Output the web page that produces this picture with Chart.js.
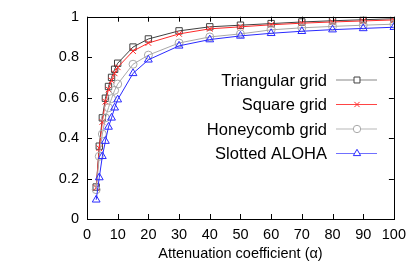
<!DOCTYPE html>
<html>
<head>
<meta charset="utf-8">
<script src="https://cdn.jsdelivr.net/npm/chart.js@4.4.0/dist/chart.umd.min.js"></script>
<style>
  html, body { margin: 0; padding: 0; background: #fff; }
  #wrap { width: 413px; height: 263px; }
</style>
</head>
<body>
<div id="wrap"><canvas id="chart" width="413" height="263"></canvas></div>
<script>
const alphaValues = [3, 4, 5, 6, 7, 8, 9, 10, 15, 20, 30, 40, 50, 60, 70, 80, 90, 100];
const triangularGrid = [0.158, 0.36, 0.50, 0.597, 0.655, 0.70, 0.74, 0.77, 0.85, 0.89, 0.93, 0.95, 0.958, 0.966, 0.974, 0.98, 0.985, 0.99];
const squareGrid = [0.155, 0.35, 0.48, 0.58, 0.64, 0.685, 0.72, 0.75, 0.83, 0.87, 0.915, 0.94, 0.95, 0.96, 0.968, 0.974, 0.979, 0.984];
const honeycombGrid = [0.145, 0.31, 0.42, 0.50, 0.55, 0.595, 0.636, 0.667, 0.765, 0.81, 0.87, 0.90, 0.915, 0.935, 0.945, 0.952, 0.958, 0.963];
const slottedAloha = [0.095, 0.205, 0.31, 0.385, 0.455, 0.50, 0.55, 0.59, 0.72, 0.787, 0.856, 0.887, 0.905, 0.918, 0.928, 0.936, 0.942, 0.948];
const xTicks = [0, 10, 20, 30, 40, 50, 60, 70, 80, 90, 100];
const yTicks = [0, 0.2, 0.4, 0.6, 0.8, 1];

const FONT = "Liberation Sans, Arial, Helvetica, sans-serif";

const series = [
  { label: "Triangular grid", data: triangularGrid, color: "#404040", legendLine: "#888", style: "rect", radius: 4.5 },
  { label: "Square grid", data: squareGrid, color: "#ff2a2a", legendLine: "#ff4444", style: "crossRot", radius: 4 },
  { label: "Honeycomb grid", data: honeycombGrid, color: "#a8a8a8", legendLine: "#b8b8b8", style: "circle", radius: 4 },
  { label: "Slotted ALOHA", data: slottedAloha, color: "#2a2aff", legendLine: "#7070ff", style: "triangle", radius: 4.5 }
];

// boîte complète + ticks vers l'intérieur (style gnuplot) + légende
const framePlugin = {
  id: "frame",
  afterDraw(chart) {
    const { ctx, chartArea: a, scales } = chart;
    ctx.save();
    ctx.strokeStyle = "#000";
    ctx.lineWidth = 1;
    ctx.strokeRect(Math.round(a.left) + 0.5, Math.round(a.top) + 0.5, Math.round(a.right - a.left), Math.round(a.bottom - a.top));
    const t = 5;
    ctx.beginPath();
    xTicks.forEach(v => {
      const x = Math.round(scales.x.getPixelForValue(v)) + 0.5;
      ctx.moveTo(x, a.bottom); ctx.lineTo(x, a.bottom - t);
      ctx.moveTo(x, a.top); ctx.lineTo(x, a.top + t);
    });
    yTicks.forEach(v => {
      const y = Math.round(scales.y.getPixelForValue(v)) + 0.5;
      ctx.moveTo(a.left, y); ctx.lineTo(a.left + t, y);
      ctx.moveTo(a.right, y); ctx.lineTo(a.right - t, y);
    });
    ctx.stroke();

    // légende
    ctx.font = "16.5px " + FONT;
    ctx.textAlign = "right";
    ctx.textBaseline = "middle";
    const rows = [80, 104.5, 129, 153.5];
    series.forEach((s, i) => {
      const y = rows[i];
      ctx.fillStyle = "#000";
      ctx.fillText(s.label, 327, y + 1);
      ctx.strokeStyle = s.legendLine;
      ctx.lineWidth = 1.2;
      ctx.beginPath();
      ctx.moveTo(336, y); ctx.lineTo(377, y);
      ctx.stroke();
      ctx.lineWidth = 1;
      ctx.strokeStyle = s.color;
      ctx.fillStyle = "#fff";
      Chart.helpers.drawPoint(ctx, { pointStyle: s.style, radius: s.radius - 0.3, borderWidth: 1 }, 357, y);
    });
    ctx.restore();
  }
};

new Chart(document.getElementById("chart").getContext("2d"), {
  type: "line",
  data: {
    datasets: series.map((s, i) => ({
      label: s.label,
      data: alphaValues.map((x, j) => ({ x: x, y: s.data[j] })),
      borderColor: s.color,
      borderWidth: 1,
      pointStyle: s.style,
      pointRadius: s.radius,
      pointBorderColor: s.color,
      pointBackgroundColor: "rgba(0,0,0,0)",
      pointBorderWidth: 1,
      tension: 0,
      fill: false,
      order: 4 - i
    }))
  },
  options: {
    responsive: false,
    animation: false,
    layout: { padding: { top: 14, right: 16, left: 0, bottom: 0 } },
    plugins: { legend: { display: false }, tooltip: { enabled: false } },
    scales: {
      x: {
        type: "linear",
        min: 0, max: 100,
        afterBuildTicks: sc => { sc.ticks = xTicks.map(v => ({ value: v })); },
        afterFit: sc => { sc.height = 44; },
        grid: { display: false, drawTicks: false },
        border: { display: false },
        ticks: { color: "#000", font: { size: 14.5, family: FONT }, padding: 7, maxRotation: 0 },
        title: { display: true, text: "Attenuation coefficient (α)", color: "#000", font: { size: 14.5, family: FONT }, padding: { top: 6, bottom: 0 } }
      },
      y: {
        min: 0, max: 1,
        afterBuildTicks: sc => { sc.ticks = yTicks.map(v => ({ value: v })); },
        afterFit: sc => { sc.width = 87; },
        grid: { display: false, drawTicks: false },
        border: { display: false },
        ticks: { color: "#000", font: { size: 14.5, family: FONT }, padding: 8, callback: v => String(Math.round(v * 10) / 10) }
      }
    }
  },
  plugins: [framePlugin]
});
</script>
</body>
</html>
